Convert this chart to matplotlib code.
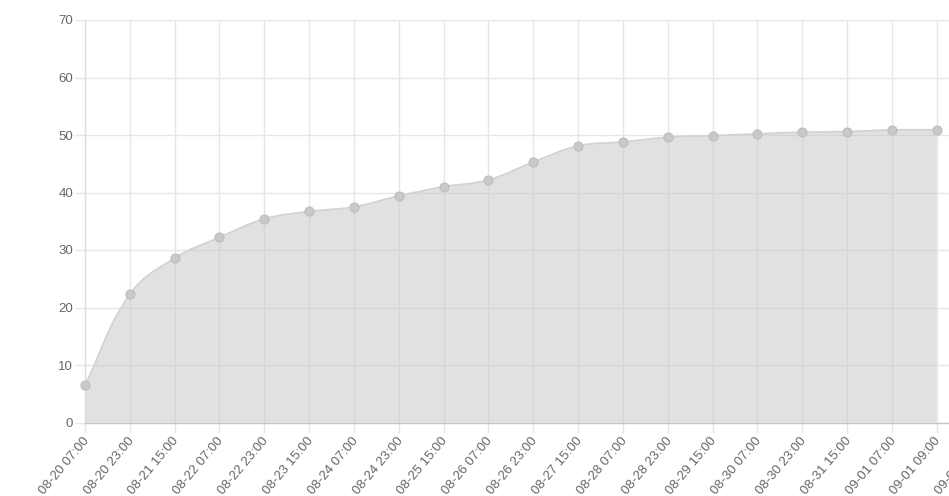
import matplotlib
matplotlib.use('Agg')
import matplotlib.pyplot as plt
import numpy as np
from matplotlib.path import Path
from matplotlib.patches import PathPatch

labels = ["08-20 07:00", "08-20 23:00", "08-21 15:00", "08-22 07:00", "08-22 23:00",
          "08-23 15:00", "08-24 07:00", "08-24 23:00", "08-25 15:00", "08-26 07:00",
          "08-26 23:00", "08-27 15:00", "08-28 07:00", "08-28 23:00", "08-29 15:00",
          "08-30 07:00", "08-30 23:00", "08-31 15:00", "09-01 07:00", "09-01 09:00",
          "09-02 01:00"]
values = [6.5, 22.3, 28.6, 32.2, 35.4, 36.7, 37.5, 39.4, 41.0, 42.2,
          45.3, 48.1, 48.8, 49.6, 49.9, 50.2, 50.5, 50.6, 50.9, 50.9]
yticks = [0, 10, 20, 30, 40, 50, 60, 70]

W, H = 949, 496
fig = plt.figure(figsize=(W / 100, H / 100), dpi=100)
fig.patch.set_facecolor('#ffffff')

left_px, right_px, top_px, bottom_px = 85, 981.5, 20, 422.5
ax = fig.add_axes([left_px / W, 1 - bottom_px / H,
                   (right_px - left_px) / W, (bottom_px - top_px) / H])
ax.set_facecolor('none')
ax.set_xlim(0, len(labels) - 1)
ax.set_ylim(0, 70)

grid_c = '#e6e6e6'
fam = ['Liberation Sans', 'DejaVu Sans']
ax.set_xticks(range(len(labels)))
ax.set_xticklabels([])
ax.set_yticks(yticks)
ax.set_yticklabels([str(v) for v in yticks], fontsize=9.5, color='#666666', family=fam)
ax.grid(True, color=grid_c, linewidth=1.0, zorder=0)
ax.set_axisbelow(True)
ax.tick_params(axis='both', length=7, width=1.0, color=grid_c)
ax.tick_params(axis='y', pad=1.5)
for s in ['top', 'right']:
    ax.spines[s].set_visible(False)
ax.spines['left'].set_color('#dcdcdc')
ax.spines['bottom'].set_color('#c4c4c4')
ax.spines['bottom'].set_linewidth(1.0)
ax.spines['left'].set_linewidth(1.0)

# x labels rotated
for i, lab in enumerate(labels):
    ax.annotate(lab, xy=(i, 0), xycoords='data', xytext=(2, -16),
                textcoords='offset pixels', rotation=50, rotation_mode='anchor',
                ha='right', va='center', fontsize=9.5, color='#666666',
                family=fam, annotation_clip=False)

# chart.js style bezier (tension 0.4) computed in pixel space
xs = np.arange(len(values), dtype=float)
pts = ax.transData.transform(np.column_stack([xs, values]))
t = 0.4
n = len(pts)
cp_prev = np.zeros_like(pts)
cp_next = np.zeros_like(pts)
for i in range(n):
    prev = pts[i - 1] if i > 0 else pts[i]
    cur = pts[i]
    nxt = pts[i + 1] if i < n - 1 else pts[i]
    d01 = np.hypot(*(cur - prev))
    d12 = np.hypot(*(nxt - cur))
    tot = d01 + d12
    s01 = d01 / tot if tot else 0
    s12 = d12 / tot if tot else 0
    cp_prev[i] = cur - t * s01 * (nxt - prev)
    cp_next[i] = cur + t * s12 * (nxt - prev)

verts = [pts[0]]
codes = [Path.MOVETO]
for i in range(n - 1):
    verts += [cp_next[i], cp_prev[i + 1], pts[i + 1]]
    codes += [Path.CURVE4] * 3
inv = ax.transData.inverted()
verts_d = inv.transform(np.array(verts))

line_path = Path(verts_d, codes)
fill_verts = np.vstack([verts_d, [[xs[-1], 0], [xs[0], 0], verts_d[0]]])
fill_codes = codes + [Path.LINETO, Path.LINETO, Path.CLOSEPOLY]
fill_path = Path(fill_verts, fill_codes)

ax.add_patch(PathPatch(fill_path, facecolor=(0.78, 0.78, 0.78, 0.52),
                       edgecolor='none', zorder=2))
ax.add_patch(PathPatch(line_path, facecolor='none', edgecolor='#d2d2d2',
                       linewidth=1.2, zorder=3))
ax.plot(xs, values, 'o', markersize=6.5, markerfacecolor='#c9c9c9',
        markeredgecolor='#bdbdbd', markeredgewidth=0.8, zorder=4, clip_on=False)

fig.savefig('out.png', dpi=100)
